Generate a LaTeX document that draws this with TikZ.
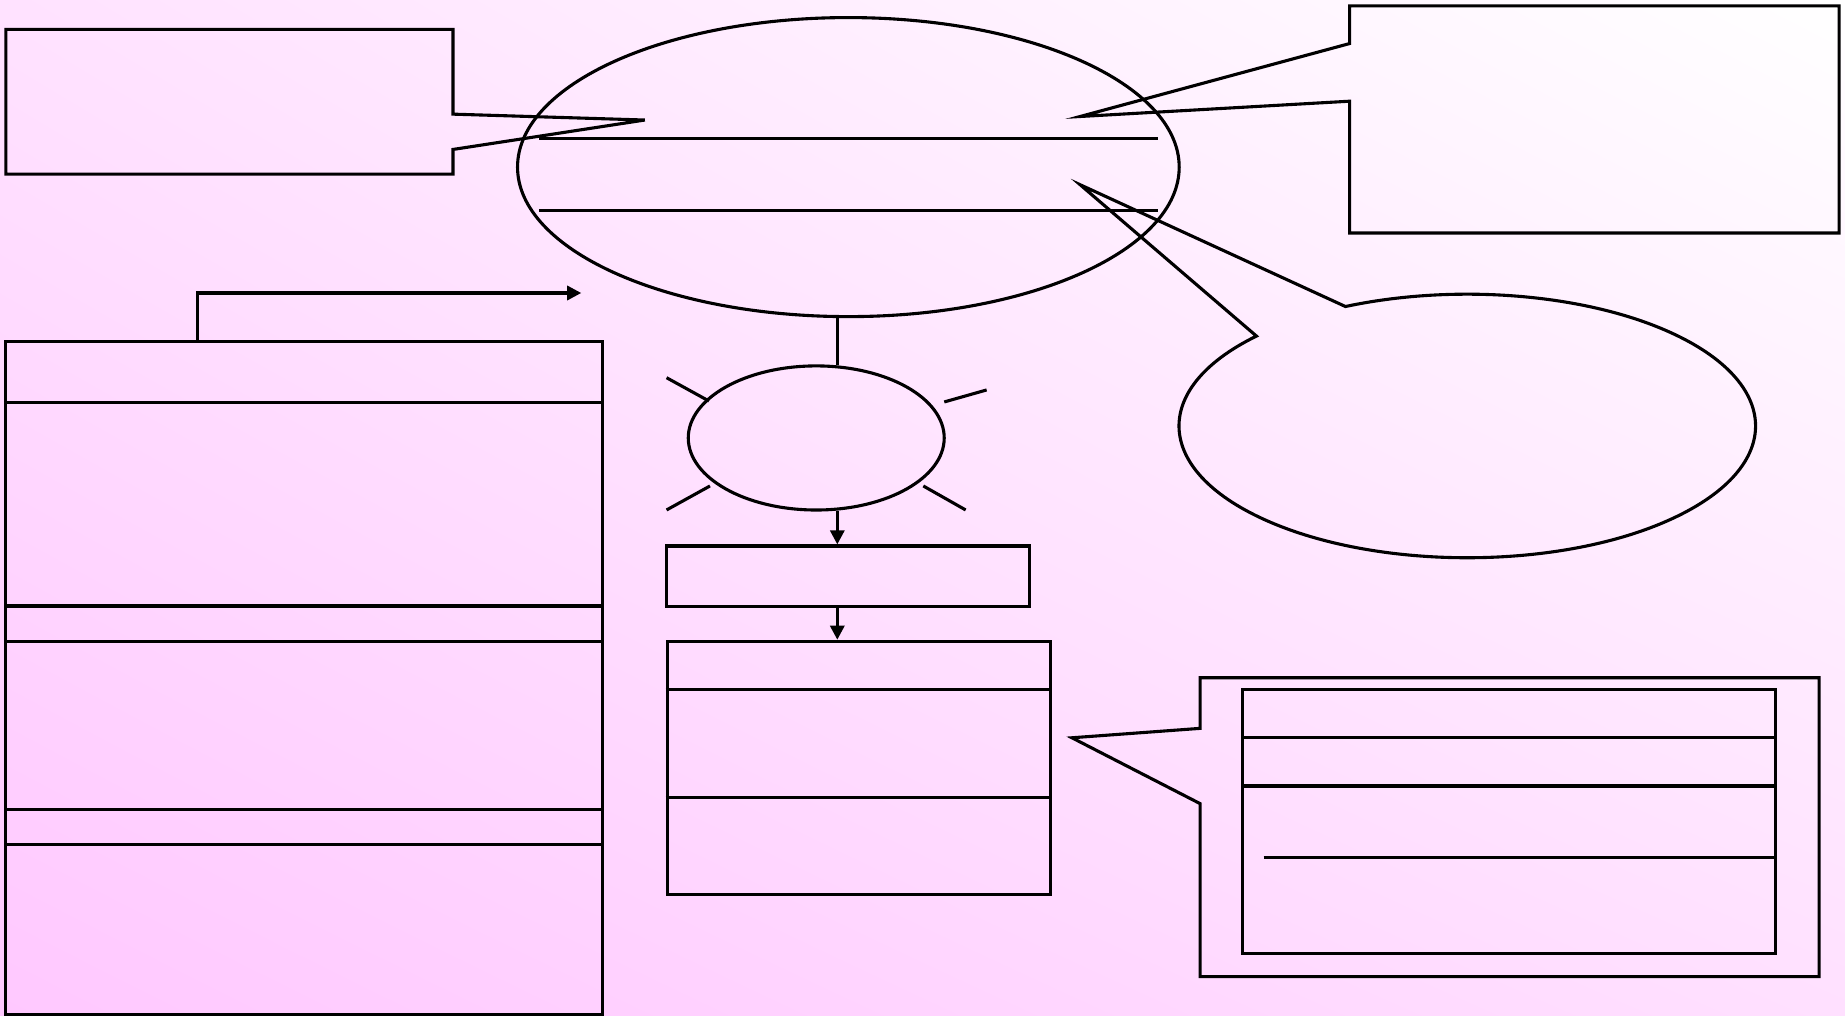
\documentclass[tikz,border=0pt]{standalone}
\usetikzlibrary{arrows.meta,shapes.geometric,fit,calc,shadings}
\definecolor{bgLL}{RGB}{255,200,255}
\definecolor{bgUL}{RGB}{255,226,255}
\definecolor{bgUR}{RGB}{255,255,255}
\definecolor{bgLR}{RGB}{255,224,255}
\begin{document}
\begin{tikzpicture}[x=0.01cm,y=-0.01cm,line width=0.75pt,line join=miter,
  boxnode/.style={draw,rectangle,inner sep=0pt},
  ellnode/.style={draw,ellipse,inner sep=0pt},
  outline/.style={draw},
  arr/.style={-{Triangle[length=0.12cm,width=0.12cm]}}]
% background
\shade[lower left=bgLL,upper left=bgUL,upper right=bgUR,lower right=bgLR] (0,0) rectangle (1568,863);
\useasboundingbox (0,0) rectangle (1568,863);

% top-left callout
\draw[outline] (5,25) -- (385,25) -- (385,97) -- (548,102) -- (385,127) -- (385,148) -- (5,148) -- cycle;

% big ellipse
\node[ellnode,minimum width=5.62cm,minimum height=2.54cm] (bigE) at (721,142) {};
\coordinate (bl1) at (458,118); \coordinate (br1) at (984,118);
\coordinate (bl2) at (458,179); \coordinate (br2) at (984,179);
\draw (bl1) -- (br1);
\draw (bl2) -- (br2);

% top-right callout
\draw[outline] (1147,5) -- (1563,5) -- (1563,198) -- (1147,198) -- (1147,86) -- (918,99) -- (1147,37) -- cycle;

% right ellipse callout
\coordinate (rc) at (1247,362);
\draw[outline] ($(rc)+(245:245 and 112)$) -- (918,157) -- ($(rc)+(223:245 and 112)$)
  arc[start angle=223,end angle=-115,x radius=245,y radius=112] -- cycle;

% left stacked box
\node[boxnode,fit={(5,290) (512,862)}] (lstack) {};
\foreach \yy in {342,515,545,688,718}{
  \draw (lstack.west |- 0,\yy) -- (lstack.east |- 0,\yy);
}
\coordinate (lx) at (168,0);
\coordinate (lend) at (494,249);
\draw[arr] (lstack.north -| lx) |- (lend);

% small ellipse with rays
\node[ellnode,minimum width=2.174cm,minimum height=1.224cm] (smallE) at (693.7,372.2) {};
\draw (566.5,321) -- (602.5,340.8);
\draw (802.5,341.6) -- (838.5,331.4);
\draw (566.5,433.4) -- (603.4,413);
\draw (784.7,413) -- (820.7,433.4);

\coordinate (cx) at (711.6,0);
\draw (bigE.south -| cx) -- ($(smallE.north -| cx)+(0,0.8)$);

% rect below small ellipse
\node[boxnode,fit={(566.5,464) (875.3,515.6)}] (rect1) {};
\draw[arr] ($(smallE.south -| cx)+(0,-0.8)$) -- (rect1.north -| cx);

% middle box
\node[boxnode,fit={(567,545) (893,760)}] (midbox) {};
\draw (midbox.west |- 0,586) -- (midbox.east |- 0,586);
\draw (midbox.west |- 0,678) -- (midbox.east |- 0,678);
\draw[arr] (rect1.south -| cx) -- (midbox.north -| cx);

% bottom-right callout
\draw[outline] (1020,576) -- (1546,576) -- (1546,830) -- (1020,830) -- (1020,683) -- (911,627) -- (1020,619) -- cycle;
\node[boxnode,fit={(1056,586) (1509,810)}] (inbox) {};
\draw (inbox.west |- 0,627) -- (inbox.east |- 0,627);
\draw (inbox.west |- 0,668) -- (inbox.east |- 0,668);
\draw (1074,729) -- (inbox.east |- 0,729);
\end{tikzpicture}
\end{document}
